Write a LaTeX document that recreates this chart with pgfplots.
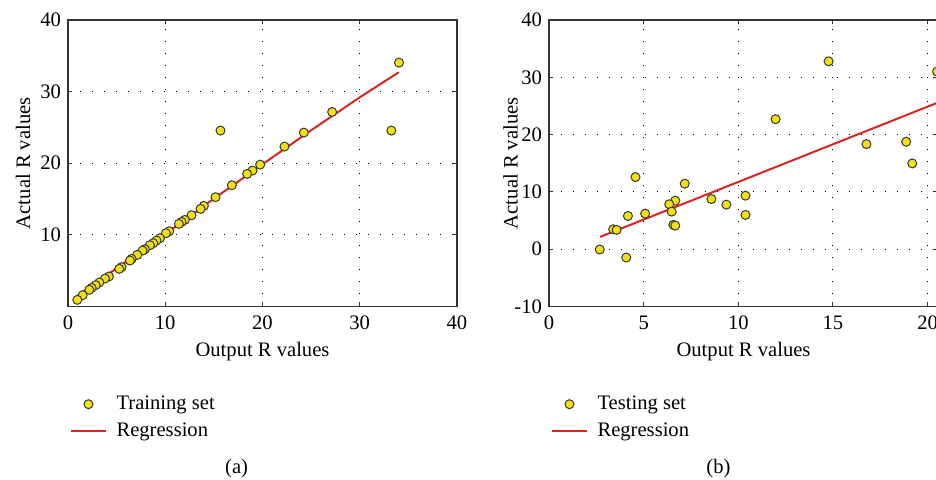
\documentclass[border=0pt]{standalone}
\usepackage{fontspec}
\setmainfont{Liberation Serif}
\usepackage{pgfplots}
\pgfplotsset{compat=1.18}
\definecolor{ptyellow}{RGB}{243,224,18}
\definecolor{ptedge}{RGB}{55,55,55}
\definecolor{regred}{RGB}{214,38,36}
\newcommand{\lblfont}{\fontsize{10.3}{12}\selectfont}
\pgfplotsset{
  myaxis/.style={
    scale only axis,
    width=194.5pt, height=143.25pt,
    axis line style={black!80, line width=0.6pt},
    tick align=inside,
    major tick length=2pt,
    tick style={black!80, line width=0.5pt},
    grid=major,
    major grid style={black, line width=0.5pt, dash pattern=on 0.5pt off 5.5pt},
    /pgf/number format/assume math mode=true,
    tick label style={font=\lblfont},
    xticklabel style={yshift=-1pt},
    label style={font=\lblfont},
    xlabel style={at={(axis description cs:0.5,0)}, anchor=center, yshift=-22.75pt},
    legend style={draw=none, fill=none, font=\lblfont, at={(axis description cs:0,0)}, anchor=north west, xshift=-2pt, yshift=-40.5pt, legend cell align=left, row sep=1.2pt,
      /tikz/every odd column/.append style={column sep=3pt}},
  },
  scat/.style={only marks, mark=*, mark size=2.25pt, mark options={fill=ptyellow, draw=ptedge, line width=0.5pt}},
  reg/.style={regred, line width=1pt, no marks},
}
\begin{document}
\begin{tikzpicture}
\useasboundingbox (0pt,0pt) rectangle (468pt,-240pt);
\begin{axis}[myaxis,
  at={(34pt,-10pt)}, anchor=north west,
  xmin=0, xmax=40, ymin=0, ymax=40,
  xtick={0,10,20,30,40}, ytick={10,20,30,40},
  xlabel={Output R values}, ylabel={Actual R values},
  ylabel style={at={(axis description cs:-0.1157,0.5)}, anchor=center},
]
\addplot[scat] coordinates {
(34.04,34.05) (15.68,24.56) (33.25,24.56) (27.16,27.16) (24.25,24.28) (22.26,22.33)
(19.76,19.81) (18.97,18.98) (18.42,18.51) (16.85,16.93) (15.17,15.26) (13.97,14.05)
(13.63,13.63) (12.70,12.74) (12.02,12.09) (11.68,11.80) (11.40,11.53) (10.41,10.51)
(10.07,10.23) (9.45,9.53) (9.10,9.20) (8.77,8.84) (8.42,8.56) (7.91,8.00) (7.67,7.81)
(7.12,7.21) (6.54,6.65) (6.37,6.42) (5.51,5.49) (5.27,5.26) (4.21,4.19) (3.80,3.90)
(3.22,3.35) (2.84,2.98) (2.43,2.60) (2.19,2.33) (1.51,1.58) (0.96,0.93)
};
\addlegendentry{Training set}
\addplot[reg] coordinates {(1,1.5) (5,5.35) (10,10.1) (15,15.05) (20,19.85) (25,24.6) (30,29.2) (34,32.7)};
\addlegendentry{Regression}
\end{axis}
\begin{axis}[myaxis,
  at={(274.5pt,-10pt)}, anchor=north west,
  xmin=0, xmax=20.55, ymin=-10, ymax=40,
  xtick={0,5,10,15,20}, ytick={-10,0,10,20,30,40},
  xlabel={Output R values}, ylabel={Actual R values},
  ylabel style={at={(axis description cs:-0.0987,0.5)}, anchor=center},
  clip=false,
]
\addplot[scat] coordinates {
(14.77,32.79) (20.50,31.0) (11.97,22.69) (16.77,18.34) (18.87,18.75) (19.19,14.97)
(4.57,12.59) (7.17,11.43) (10.38,9.34) (10.38,5.98) (8.58,8.76) (9.37,7.78)
(6.67,8.47) (6.35,7.84) (6.48,6.56) (5.08,6.21) (4.17,5.80) (6.57,4.24) (6.67,4.12)
(3.39,3.48) (3.57,3.37) (2.68,-0.06) (4.08,-1.45)
};
\addlegendentry{Testing set}
\addplot[reg] coordinates {(2.7,2.15) (20.55,25.6)};
\addlegendentry{Regression}
\end{axis}
\node[font=\lblfont] at (118.3pt,-234.2pt) {(a)};
\node[font=\lblfont] at (359.2pt,-234.2pt) {(b)};
\end{tikzpicture}
\end{document}
